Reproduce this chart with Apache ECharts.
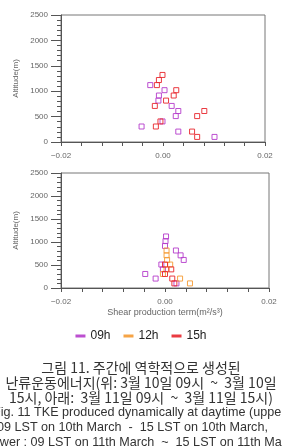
<!DOCTYPE html>
<html>
<head>
<meta charset="utf-8">
<script src="https://cdn.jsdelivr.net/npm/echarts@6/dist/echarts.min.js"></script>
<style>
    html, body { margin: 0; padding: 0; background: #fff; }
    #chart { width: 282px; height: 447px; }
</style>
</head>
<body>
<div id="chart"></div>
<script>
// altitude levels (m)
const levels = [100, 205, 305, 405, 510, 610, 710, 815, 915, 1020, 1120, 1220, 1320]

// upper panel: 10 March, shear production term per level
const topH09 = [0.0101, 0.0030, -0.0042, -0.0001, 0.0025, 0.0030, 0.0017, -0.0009, -0.0008, 0.0003, -0.0025, null, null]
const topH12 = [null, null, null, null, null, null, null, null, null, null, null, null, null]
const topH15 = [0.0067, 0.0057, -0.0014, -0.0005, 0.0067, 0.0081, -0.0016, 0.0006, 0.0021, 0.0026, -0.0012, -0.0008, -0.0001]

// lower panel: 11 March
const botH09 = [0.0022, -0.0018, -0.0038, -0.0004, -0.0007, 0.0036, 0.0030, 0.0021, 0.0000, 0.0001, 0.0002, null, null]
const botH12 = [0.0048, 0.0029, -0.0004, 0.0003, 0.0010, 0.0004, 0.0003, 0.0003, null, null, null, null, null]
const botH15 = [0.0018, 0.0014, 0.0000, 0.0012, 0.0000, null, null, null, null, null, null, null, null]

const seriesNames = ['09h', '12h', '15h']
const colors = ['#b53ccb', '#f59a32', '#e8262c']

const xTicks = [-0.02, 0.00, 0.02]
const yTicks = [0, 500, 1000, 1500, 2000, 2500]

// caption: korean lines are centred, english lines run off both edges
const captionKo = [
    '그림 11. 주간에 역학적으로 생성된',
    '난류운동에너지(위: 3월 10일 09시  ~  3월 10일',
    '15시, 아래:  3월 11일 09시  ~  3월 11일 15시)'
]
const captionEn = [
    'Fig. 11 TKE produced dynamically at daytime (upper:',
    '09 LST on 10th March  -  15 LST on 10th March,',
    'lower : 09 LST on 11th March  ~  15 LST on 11th March)'
]

function toPoints (xs) {
    const out = []
    xs.forEach((x, i) => {
        if (x !== null) out.push([x, levels[i]])
    })
    return out
}

function xLabel (val) {
    for (const t of xTicks) {
        if (Math.abs(val - t) < 1e-9) {
            return (t < 0 ? '\u2212' : '') + Math.abs(t).toFixed(2)
        }
    }
    return ''
}

const labelFont = {
    color: '#666',
    fontSize: 8,
    fontFamily: 'Liberation Sans'
}

function makeX (gridIndex, withName) {
    return {
        type: 'value',
        gridIndex: gridIndex,
        min: -0.02,
        max: 0.02,
        interval: 0.004,
        name: withName ? 'Shear production term(m²/s³)' : '',
        nameLocation: 'middle',
        nameGap: 20,
        nameTextStyle: Object.assign({}, labelFont, { fontSize: 9 }),
        axisLine: { show: true, onZero: false, lineStyle: { color: '#555', width: 1 } },
        axisTick: { show: true, length: 4, lineStyle: { color: '#555' } },
        axisLabel: Object.assign({ margin: 10, formatter: xLabel }, labelFont),
        splitLine: { show: false }
    }
}

function makeY (gridIndex) {
    return {
        type: 'value',
        gridIndex: gridIndex,
        min: 0,
        max: 2500,
        interval: 500,
        name: 'Altitude(m)',
        nameLocation: 'middle',
        nameRotate: 90,
        nameGap: 35,
        nameTextStyle: labelFont,
        axisLine: { show: true, onZero: false, lineStyle: { color: '#555', width: 1 } },
        axisTick: { show: true, length: 10, lineStyle: { color: '#555' } },
        minorTick: { show: true, splitNumber: 5, length: 4, lineStyle: { color: '#555' } },
        axisLabel: Object.assign({
            margin: 13,
            formatter: function (val) {
                return yTicks.indexOf(val) >= 0 ? String(val) : ''
            }
        }, labelFont),
        splitLine: { show: false }
    }
}

const panels = [[topH09, topH12, topH15], [botH09, botH12, botH15]]
const series = []
panels.forEach((panel, p) => {
    panel.forEach((xs, k) => {
        series.push({
            name: seriesNames[k],
            type: 'scatter',
            xAxisIndex: p,
            yAxisIndex: p,
            symbol: 'rect',
            symbolSize: 5,
            itemStyle: {
                color: 'transparent',
                borderColor: colors[k],
                borderWidth: 1,
                opacity: 0.9
            },
            data: toPoints(xs)
        })
    })
})

const captionItems = []
captionKo.forEach((t, i) => {
    captionItems.push({
        type: 'text',
        x: 141,
        y: 368 + i * 15,
        style: {
            text: t,
            textAlign: 'center',
            textVerticalAlign: 'middle',
            fill: '#333',
            fontSize: 14,
            fontFamily: 'Noto Sans CJK KR'
        }
    })
})
const enLeft = [-7, -3, -10]
captionEn.forEach((t, i) => {
    captionItems.push({
        type: 'text',
        x: enLeft[i],
        y: 413 + i * 15,
        style: {
            text: t,
            textAlign: 'left',
            textVerticalAlign: 'middle',
            fill: '#333',
            fontSize: 12.6,
            fontFamily: 'Liberation Sans'
        }
    })
})

const chart = echarts.init(document.getElementById('chart'))
chart.setOption({
    animation: false,
    grid: [
        { left: 61, top: 15, width: 204, height: 127, show: true, borderColor: '#777', borderWidth: 1 },
        { left: 61, top: 173, width: 208, height: 115, show: true, borderColor: '#777', borderWidth: 1 }
    ],
    xAxis: [makeX(0, false), makeX(1, true)],
    yAxis: [makeY(0), makeY(1)],
    legend: {
        top: 325,
        left: 'center',
        icon: 'rect',
        itemWidth: 10,
        itemHeight: 3,
        itemGap: 13,
        textStyle: { color: '#222', fontSize: 12, fontFamily: 'Liberation Sans' },
        data: seriesNames.map((n, k) => ({ name: n, itemStyle: { color: colors[k], borderWidth: 0 } }))
    },
    graphic: captionItems,
    series: series
})
</script>
</body>
</html>
